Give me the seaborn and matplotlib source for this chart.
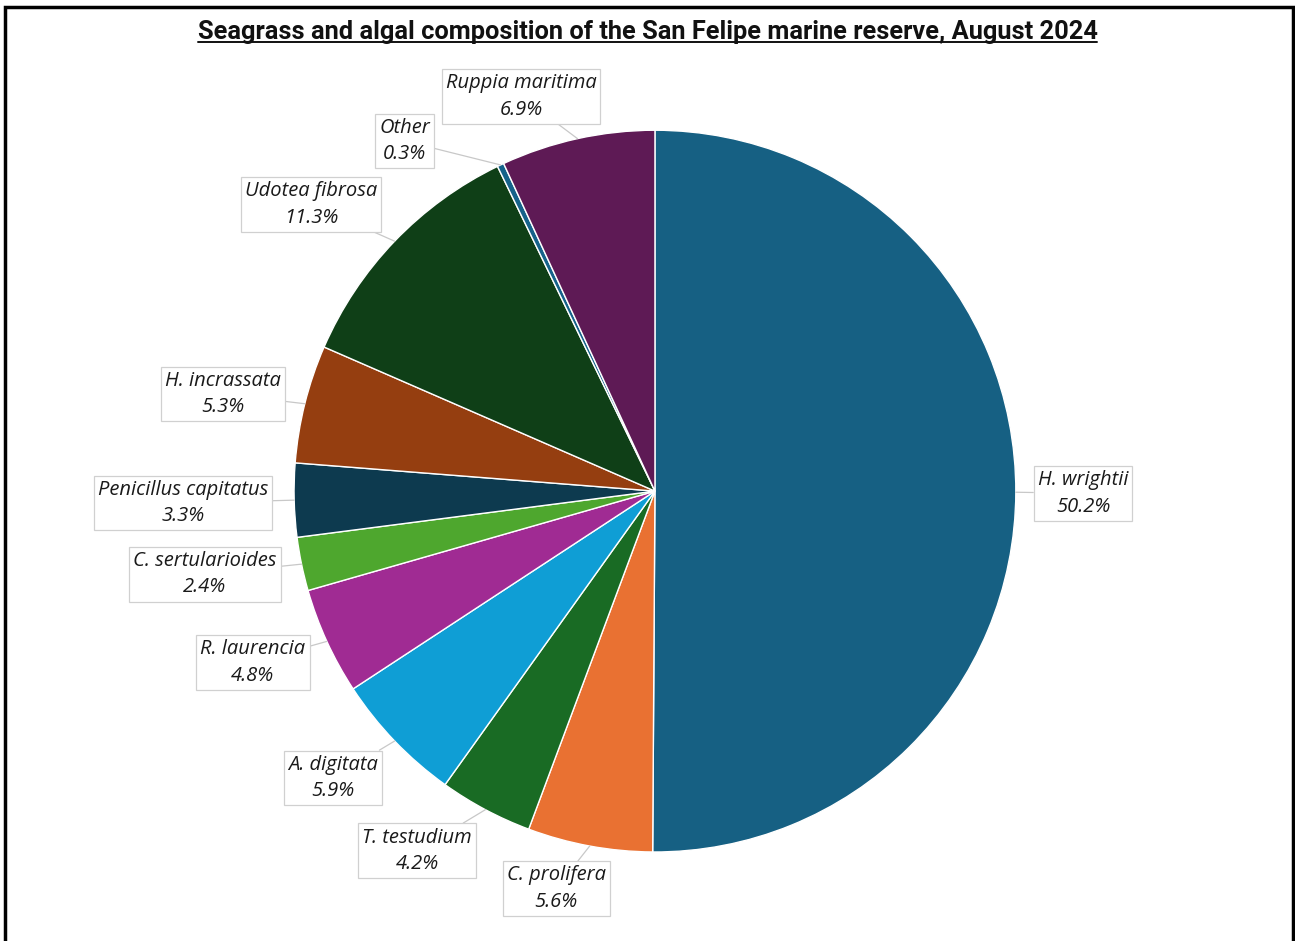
import numpy as np
import matplotlib
matplotlib.use("Agg")
import matplotlib.pyplot as plt
import seaborn as sns
from matplotlib.lines import Line2D
from matplotlib.patches import Rectangle

# data (clockwise from 12 o'clock)
species = ["H. wrightii", "C. prolifera", "T. testudium", "A. digitata", "R. laurencia",
           "C. sertularioides", "Penicillus capitatus", "H. incrassata", "Udotea fibrosa",
           "Other", "Ruppia maritima"]
shares = [50.2, 5.6, 4.2, 5.9, 4.8, 2.4, 3.3, 5.3, 11.3, 0.3, 6.9]
colors = ["#166083", "#E97132", "#196B24", "#0F9ED5", "#A02B93", "#4EA72E",
          "#0D3A4F", "#953E10", "#0F3F17", "#15628A", "#5E1A55"]

# label box centres, in pie-radius units
label_pos = [(1.186, -0.006), (-0.274, -1.102), (-0.659, -0.997), (-0.892, -0.795),
             (-1.114, -0.474), (-1.247, -0.230), (-1.307, -0.033), (-1.197, 0.269),
             (-0.953, 0.795), (-0.693, 0.970), (-0.371, 1.094)]

sns.set_theme(style="white")
plt.rcParams["font.family"] = ["Open Sans", "DejaVu Sans"]

fig = plt.figure(figsize=(12.95, 9.41), dpi=100)
ax = fig.add_axes([0.227, 0.0946, 0.5575, 0.767])

wedges, _ = ax.pie(shares, colors=sns.color_palette(colors), startangle=90, counterclock=False,
                   wedgeprops=dict(edgecolor="white", linewidth=1.0), radius=1.0)
ax.set_xlim(-1, 1)
ax.set_ylim(-1, 1)
ax.set_aspect("equal")

for w, name, val, (lx, ly) in zip(wedges, species, shares, label_pos):
    ang = np.deg2rad((w.theta1 + w.theta2) / 2)
    px, py = np.cos(ang), np.sin(ang)
    ax.annotate(f"{name}\n{val:.1f}%", xy=(px, py), xytext=(lx, ly),
                ha="center", va="center", fontsize=14.5, style="italic", color="#1a1a1a",
                linespacing=1.45, annotation_clip=False,
                bbox=dict(boxstyle="square,pad=0.2", fc="white", ec="#d0d0d0", lw=0.9),
                arrowprops=dict(arrowstyle="-", color="#c8c8c8", lw=0.9,
                                shrinkA=0, shrinkB=0))

title = fig.text(0.5, 0.966, "Seagrass and algal composition of the San Felipe marine reserve, August 2024",
                 ha="center", va="center", fontsize=18.3, fontweight="bold", color="#111111",
                 family=["Roboto", "DejaVu Sans"])

# underline the title
fig.canvas.draw()
bb = title.get_window_extent().transformed(fig.transFigure.inverted())
fig.add_artist(Line2D([bb.x0, bb.x1], [bb.y0 + 0.002, bb.y0 + 0.002],
                      transform=fig.transFigure, color="#111111", lw=1.4))

# outer frame
fig.add_artist(Rectangle((5 / 1295, -0.05), 1288 / 1295, 1.05 - 7 / 941,
                         transform=fig.transFigure, fill=False, ec="black", lw=2.5))

fig.savefig("out.png", dpi=100)
